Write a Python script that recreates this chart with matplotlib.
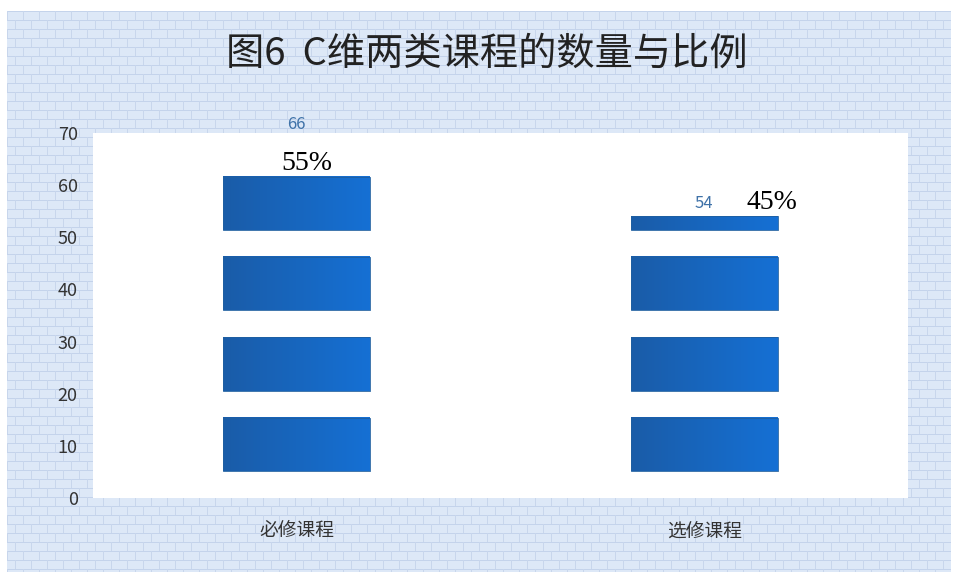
import numpy as np
import matplotlib
matplotlib.use('Agg')
import matplotlib.pyplot as plt
from matplotlib.colors import LinearSegmentedColormap

plt.rcParams['font.family'] = ['Noto Sans CJK SC', 'DejaVu Sans']

# data
categories = ['必修课程', '选修课程']
counts = [66, 54]
shares = ['55%', '45%']
yticks = [0, 10, 20, 30, 40, 50, 60, 70]

# picture-fill look of the bars: a block, then a gap, repeated
gap, block = 5.2, 10.2
bar_w = 0.36

fig = plt.figure(figsize=(9.58, 5.82), dpi=100)
fig.patch.set_facecolor('white')

# brick pattern background
bg = fig.add_axes([7/958, 10/582, 944/958, 561/582])
H, W = 561, 944
pat = np.full((H, W, 3), [221, 232, 247], dtype=float)
rows = np.arange(H) // 9
for y in range(H):
    if y % 9 == 0:
        pat[y, :] = [196, 211, 235]
    shift = 8 if rows[y] % 2 else 0
    xs = np.arange(shift, W, 16)
    pat[y, xs] = [200, 214, 236]
bg.imshow(pat / 255, aspect='auto', interpolation='nearest')
bg.axis('off')

ax = fig.add_axes([93/958, 84/582, 815/958, 365/582])
ax.set_facecolor('white')

cmap = LinearSegmentedColormap.from_list('b', ['#1a5ca8', '#1570d4'])
grad = np.linspace(0, 1, 64).reshape(1, -1)

for i, v in enumerate(counts):
    start = gap
    while start < v:
        top = min(start + block, v)
        ax.imshow(grad, cmap=cmap, aspect='auto', interpolation='bilinear',
                  extent=[i - bar_w / 2, i + bar_w / 2, start, top], zorder=2)
        ax.add_patch(plt.Rectangle((i - bar_w / 2, start), bar_w, top - start,
                                   fill=False, ec='#1f5fa0', lw=0.6, zorder=3))
        start += block + gap

ax.set_xlim(-0.5, 1.5)
ax.set_ylim(0, 70)
ax.set_yticks(yticks)
ax.set_xticks(range(len(categories)))
ax.set_xticklabels(categories, fontsize=13.5, color='#333333')
ax.tick_params(axis='y', length=0, pad=11, labelsize=13, labelcolor='#333333')
ax.tick_params(axis='x', length=0, pad=16)
for s in ax.spines.values():
    s.set_visible(False)

# value labels
ax.text(0, counts[0] + 5.7, str(counts[0]), ha='center', va='center',
        fontsize=12, color='#3f72a8', clip_on=False)
ax.text(0.025, counts[0] - 1.9, shares[0], ha='center', va='center',
        fontsize=20, family='Liberation Serif', color='black')
ax.text(1, counts[1] + 2.5, str(counts[1]), ha='center', va='center',
        fontsize=12, color='#3f72a8')
ax.text(1.165, counts[1] + 2.6, shares[1], ha='center', va='center',
        fontsize=20, family='Liberation Serif', color='black')

fig.text(487/958, 1 - 54/582, '图6  C维两类课程的数量与比例', ha='center', va='center',
         fontsize=27.5, color='#222222')

fig.savefig('out.png', dpi=100)
